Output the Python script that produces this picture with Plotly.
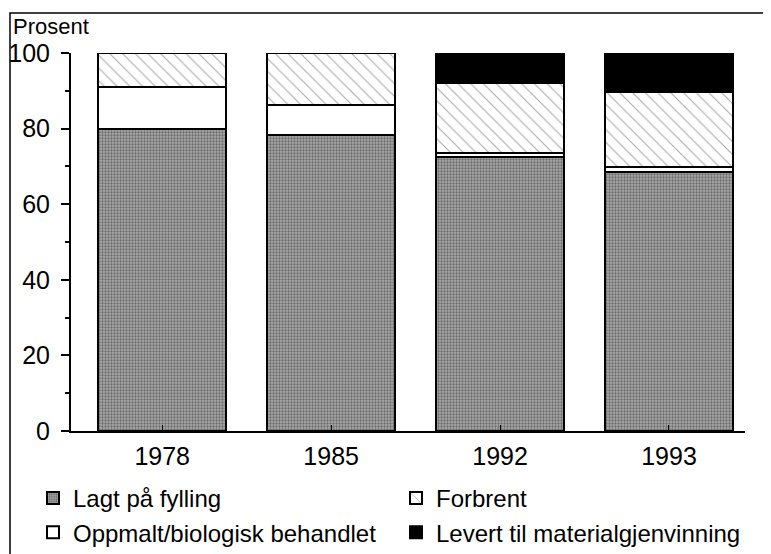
import plotly.graph_objects as go

years = ["1978", "1985", "1992", "1993"]
fylling = [80.0, 78.2, 72.4, 68.6]
oppmalt = [11.0, 8.1, 1.2, 1.2]
forbrent = [9.0, 13.7, 18.5, 19.8]
levert = [0.0, 0.0, 7.9, 10.9]

names = ["Lagt på fylling", "Oppmalt/biologisk behandlet", "Forbrent", "Levert til materialgjenvinning"]

FONT = "Liberation Sans, Arial, Helvetica, sans-serif"

fig = go.Figure()
line = dict(color="black", width=2)
fig.add_trace(go.Bar(x=years, y=fylling, name=names[0], legend="legend",
                     marker=dict(color="#a0a0a0", line=line,
                                 pattern=dict(shape=".", fgcolor="#2e2e2e", bgcolor="#a8a8a8",
                                              size=3, solidity=0.45)),
                     cliponaxis=False))
fig.add_trace(go.Bar(x=years, y=oppmalt, name=names[1], legend="legend",
                     marker=dict(color="white", line=line), cliponaxis=False))
fig.add_trace(go.Bar(x=years, y=forbrent, name=names[2], legend="legend2",
                     marker=dict(color="white", line=line,
                                 pattern=dict(shape="\\", fgcolor="#555555", bgcolor="white",
                                              size=9, solidity=0.12)),
                     cliponaxis=False))
fig.add_trace(go.Bar(x=years, y=levert, name=names[3], legend="legend2",
                     marker=dict(color="black", line=line), cliponaxis=False))

# page has an 8px body margin: figure origin sits at screen (8, 8)
OFF = 8
FW, FH = 771 - OFF, 554 - OFF
# plot area in screen px: x 71..745, y 53..431
SL, SR, ST, SB = 71, 745, 53, 431
L, T = SL - OFF, ST - OFF
R, B = FW - (SR - OFF), FH - (SB - OFF)
W, H = SR - SL, SB - ST

def px(x):
    return (x - SL) / W

def py(y):
    return (SB - y) / H

fig.update_layout(
    width=FW, height=FH,
    margin=dict(l=L, r=R, t=T, b=B, autoexpand=False),
    barmode="stack", bargap=0.24,
    plot_bgcolor="white", paper_bgcolor="white",
    font=dict(family=FONT, size=25, color="black"),
    showlegend=True,
    legend=dict(x=px(33), y=py(476), xanchor="left", yanchor="top",
                orientation="v", traceorder="normal",
                font=dict(size=24), bgcolor="rgba(0,0,0,0)", itemwidth=30),
    legend2=dict(x=px(396), y=py(476), xanchor="left", yanchor="top",
                 orientation="v", traceorder="normal",
                 font=dict(size=24), bgcolor="rgba(0,0,0,0)", itemwidth=30),
    xaxis=dict(type="category", range=[-0.54, 3.45], showgrid=False, automargin=False,
               showline=True, linecolor="black", linewidth=2,
               ticks="inside", ticklen=6, tickwidth=1, tickcolor="black",
               ticklabelstandoff=2, tickfont=dict(size=25)),
    yaxis=dict(range=[0, 100], showgrid=False, zeroline=False, automargin=False,
               showline=True, linecolor="black", linewidth=2,
               tickvals=[0, 20, 40, 60, 80, 100],
               ticks="outside", ticklen=8, tickwidth=2, tickcolor="black",
               minor=dict(tickvals=[10, 30, 50, 70, 90], ticks="outside",
                          ticklen=4, tickwidth=2, tickcolor="black"),
               ticklabelstandoff=6, tickfont=dict(size=25)),
    shapes=[dict(type="rect", xref="paper", yref="paper",
                 x0=px(10), x1=px(767), y0=py(570), y1=py(13),
                 line=dict(color="black", width=1.5), layer="above")],
    annotations=[dict(text="Prosent", xref="paper", yref="paper",
                      x=px(11), y=py(26), xanchor="left", yanchor="middle",
                      showarrow=False, font=dict(size=22))],
)

fig.write_html("out.html")
